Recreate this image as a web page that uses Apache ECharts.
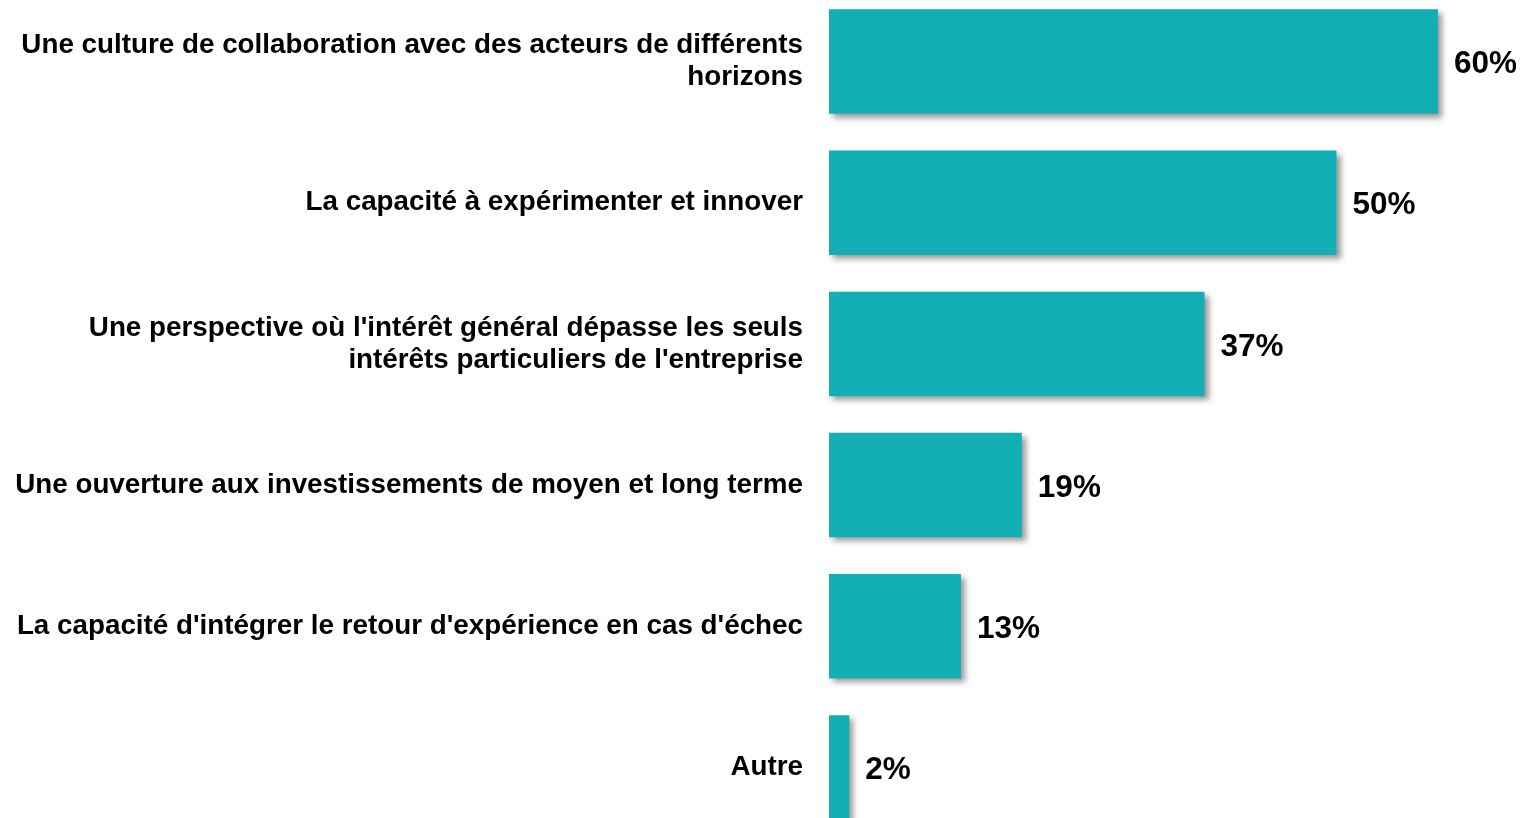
<!DOCTYPE html>
<html>
<head>
<meta charset="utf-8">
<script src="https://cdn.jsdelivr.net/npm/echarts@6/dist/echarts.min.js"></script>
<style>
  html, body { margin: 0; padding: 0; background: #fff; }
  #chart { width: 1523px; height: 818px; }
</style>
</head>
<body>
<div id="chart"></div>
<script>
var categories = [
  'Une culture de collaboration avec des acteurs de différents\nhorizons',
  'La capacité à expérimenter et innover',
  "Une perspective où l'intérêt général dépasse les seuls\nintérêts particuliers de l'entreprise",
  'Une ouverture aux investissements de moyen et long terme',
  "La capacité d'intégrer le retour d'expérience en cas d'échec",
  'Autre'
];
var values = [60, 50, 37, 19, 13, 2];

var myChart = echarts.init(document.getElementById('chart'));
var option = {
  animation: false,
  textStyle: { fontFamily: 'Liberation Sans, Arial, sans-serif' },
  grid: {
    left: 829,
    top: -9,
    width: 609,
    height: 847,
    containLabel: false,
    outerBoundsMode: 'none'
  },
  xAxis: {
    type: 'value',
    min: 0,
    max: 60,
    show: false
  },
  yAxis: {
    type: 'category',
    inverse: true,
    data: categories,
    axisLine: { show: false },
    axisTick: { show: false },
    splitLine: { show: false },
    axisLabel: {
      margin: 26,
      fontSize: 27.8,
      fontWeight: 'bold',
      color: '#000',
      lineHeight: 32,
      align: 'right'
    }
  },
  series: [{
    type: 'bar',
    data: values,
    barCategoryGap: '26%',
    itemStyle: {
      color: '#14afb5',
      shadowColor: 'rgba(0,0,0,0.4)',
      shadowBlur: 6,
      shadowOffsetX: 4,
      shadowOffsetY: 4
    },
    label: {
      show: true,
      position: 'right',
      distance: 16,
      offset: [0, 3],
      formatter: '{c}%',
      fontSize: 31.5,
      fontWeight: 'bold',
      color: '#000'
    }
  }]
};
myChart.setOption(option);
</script>
</body>
</html>
